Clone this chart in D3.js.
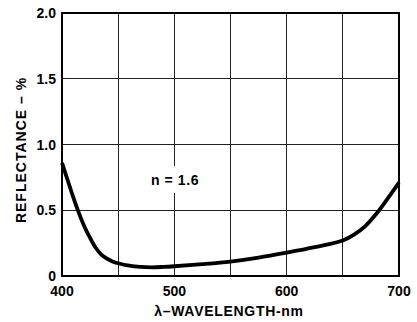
<!DOCTYPE html>
<html><head><meta charset="utf-8">
<script src="https://cdn.jsdelivr.net/npm/d3@7"></script>
<style>body{margin:0;background:#fff}svg{display:block}text{font-family:"Liberation Sans",Arial,sans-serif;font-weight:bold;fill:#000}</style>
</head><body>
<script>
const wavelengths = [400,405,410,415,420,425,430,435,440,445,450,460,470,480,490,500,525,550,575,600,625,650,660,670,680,690,700];
const reflectance = [0.86,0.73,0.60,0.48,0.375,0.29,0.215,0.163,0.132,0.111,0.097,0.078,0.069,0.066,0.069,0.074,0.09,0.11,0.14,0.178,0.22,0.27,0.315,0.38,0.475,0.59,0.71];
const xTicks = [400,500,600,700];
const xGrid = [450,500,550,600,650];
const yTicks = [0,0.5,1.0,1.5,2.0];
const yTickLabels = ["0","0.5","1.0","1.5","2.0"];
const annotation = "n = 1.6";
const xTitle = "λ–WAVELENGTH-nm";
const yTitle = "REFLECTANCE – %";

const W=417,H=322, L=62,R=399,T=13,B=276;
const svg=d3.select("body").append("svg").attr("width",W).attr("height",H);
const x=d3.scaleLinear().domain([400,700]).range([L,R]);
const y=d3.scaleLinear().domain([0,2]).range([B,T]);

const g=svg.append("g");
g.selectAll(".vg").data(xGrid).join("line").attr("x1",d=>x(d)).attr("x2",d=>x(d)).attr("y1",T).attr("y2",B).attr("stroke","#222").attr("stroke-width",1).attr("shape-rendering","crispEdges");
g.selectAll(".hg").data(yTicks.slice(1,-1)).join("line").attr("y1",d=>y(d)).attr("y2",d=>y(d)).attr("x1",L).attr("x2",R).attr("stroke","#222").attr("stroke-width",1).attr("shape-rendering","crispEdges");
g.append("rect").attr("x",L).attr("y",T).attr("width",R-L).attr("height",B-T).attr("fill","none").attr("stroke","#000").attr("stroke-width",1.5).attr("shape-rendering","crispEdges");

svg.selectAll(".yt").data(yTicks).join("text").attr("x",L-6).attr("y",d=>y(d)).attr("dy","0.36em").attr("text-anchor","end").attr("font-size",14).text((d,i)=>yTickLabels[i]);
svg.selectAll(".xt").data(xTicks).join("text").attr("x",d=>x(d)).attr("y",296).attr("text-anchor","middle").attr("font-size",14).text(d=>d);

svg.append("text").attr("x",229).attr("y",316).attr("text-anchor","middle").attr("font-size",14).attr("letter-spacing",0.7).text(xTitle);
svg.append("text").attr("transform","translate(26,150) rotate(-90)").attr("text-anchor","middle").attr("font-size",14).attr("letter-spacing",1).text(yTitle);

const ann=svg.append("g");
ann.append("rect").attr("x",x(475)+9).attr("y",166).attr("width",50).attr("height",27).attr("fill","#fff");
ann.append("text").attr("x",175).attr("y",185).attr("text-anchor","middle").attr("font-size",14).attr("letter-spacing",0.6).text(annotation);

const line=d3.line().x((d,i)=>x(wavelengths[i])).y(d=>y(d)).curve(d3.curveCatmullRom.alpha(0.5));
svg.append("path").datum(reflectance).attr("d",line).attr("fill","none").attr("stroke","#000").attr("stroke-width",3.8).attr("stroke-linejoin","round");
</script>
</body></html>
